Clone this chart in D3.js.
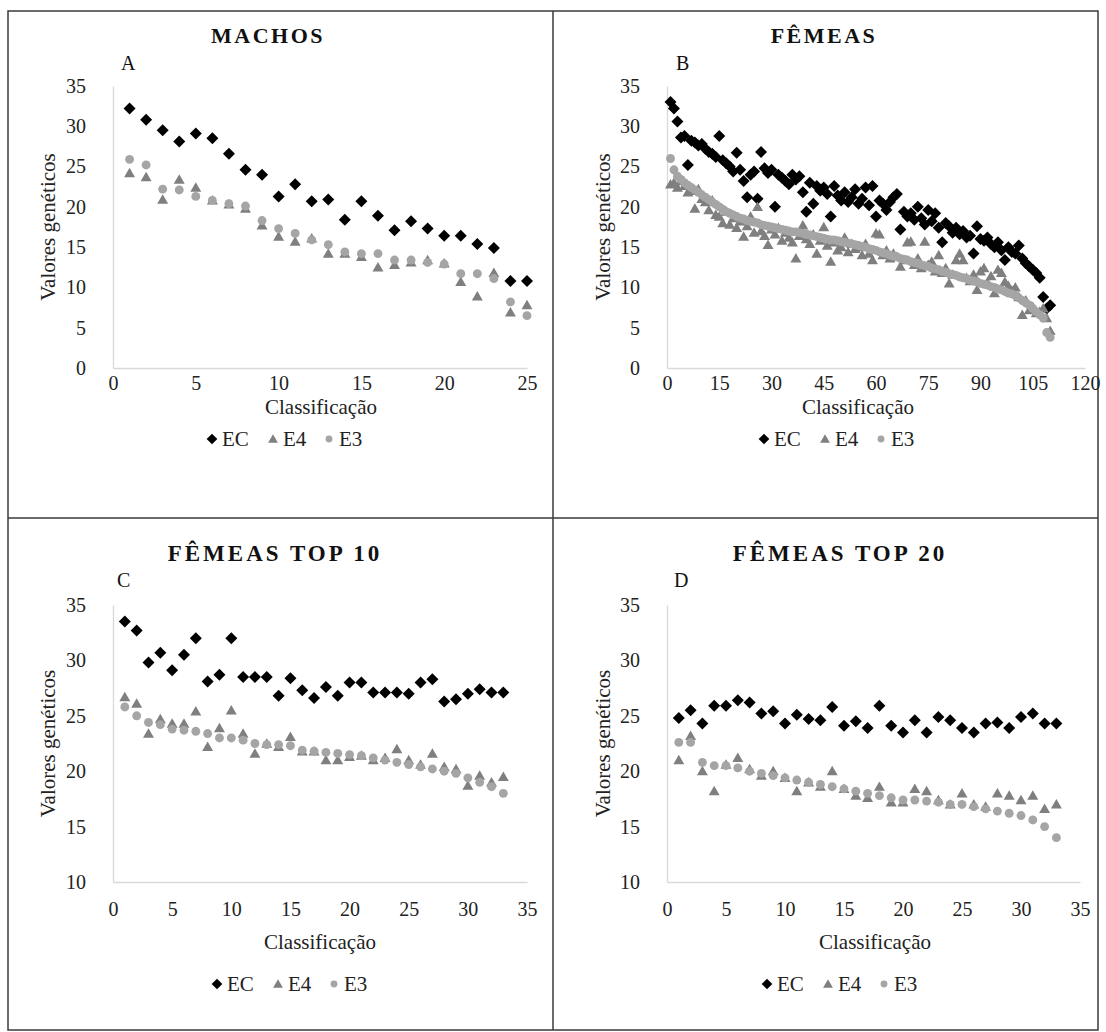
<!DOCTYPE html>
<html><head><meta charset="utf-8">
<script src="https://cdn.jsdelivr.net/npm/d3@7"></script>
<style>body{margin:0;background:#fff}</style>
</head><body>
<svg id="c" width="1106" height="1032"></svg>
<script>
// ---------- DATA ----------
const seriesNames = ["EC", "E4", "E3"];

const machosEC = [32.2,30.8,29.5,28.1,29.1,28.5,26.6,24.6,24.0,21.3,22.8,20.7,20.9,18.4,20.7,18.9,17.1,18.2,17.3,16.4,16.4,15.4,14.9,10.8,10.8];
const machosE4 = [24.2,23.7,20.9,23.4,22.4,20.8,20.3,19.8,17.7,16.3,15.7,16.1,14.2,14.2,13.8,12.5,12.8,13.1,13.4,13.0,10.7,8.9,11.8,6.9,7.8];
const machosE3 = [25.9,25.2,22.2,22.1,21.3,20.8,20.4,20.1,18.3,17.3,16.7,15.9,15.3,14.4,14.2,14.2,13.4,13.4,13.1,12.9,11.7,11.7,11.1,8.2,6.5];

const femeasEC = [33.0,32.2,30.6,28.6,28.8,25.2,28.2,28.0,27.6,27.8,27.2,26.8,26.6,26.2,28.8,25.8,25.4,25.0,24.4,26.7,
  24.6,23.2,21.2,24.0,24.4,21.0,26.8,24.8,24.2,24.6,20.0,24.0,23.6,23.2,22.8,24.0,23.4,23.8,21.8,19.4,
  23.0,20.4,22.6,22.0,22.4,21.6,18.8,22.6,21.4,20.8,21.8,20.6,21.2,22.2,20.4,21.0,22.4,20.2,22.6,18.8,
  20.8,20.4,19.6,20.6,21.2,21.6,17.2,19.4,18.8,19.2,18.4,20.0,18.6,17.8,19.6,18.2,19.2,17.4,15.6,18.0,
  17.6,16.8,17.4,16.6,17.0,16.2,16.4,14.2,17.6,16.0,15.8,16.2,15.4,15.0,15.6,14.6,13.4,15.0,14.4,14.2,
  15.2,13.6,13.0,12.6,12.2,11.8,11.2,8.8,7.4,7.8];
const femeasE4 = [22.8,23.0,22.4,23.2,22.6,21.8,22.0,19.8,22.2,21.0,20.6,19.6,20.8,19.0,18.8,18.0,19.4,17.8,18.6,17.4,
  18.2,16.3,17.6,18.8,16.8,20.0,17.0,16.4,15.3,17.2,16.6,17.4,15.8,16.8,16.2,15.6,13.6,16.4,17.7,16.0,
  15.4,16.6,14.2,15.8,17.5,15.2,13.2,15.6,14.6,15.0,16.2,14.4,15.4,14.8,15.0,14.0,15.4,14.2,13.4,16.7,
  16.6,14.0,14.6,13.6,14.2,13.8,12.6,13.4,15.6,15.7,12.8,13.6,12.4,15.7,12.8,13.2,12.0,14.0,11.8,12.4,
  10.5,11.6,13.4,14.2,13.4,11.2,10.8,11.6,9.7,12.0,12.4,10.6,11.4,9.3,12.2,11.8,10.7,10.2,9.6,10.0,
  8.8,6.6,8.4,7.2,7.6,6.8,7.0,7.4,6.2,4.6];
const femeasE3 = [26.0,24.6,23.8,23.4,23.0,22.7,22.4,22.1,21.8,21.5,21.2,20.9,20.6,20.3,20.0,19.7,19.4,19.2,19.0,18.8,
  18.6,18.5,18.3,18.2,18.1,18.0,17.8,17.7,17.6,17.5,17.4,17.3,17.2,17.1,17.0,16.9,16.9,16.8,16.7,16.6,
  16.5,16.4,16.3,16.2,16.1,16.0,15.9,15.9,15.8,15.7,15.6,15.5,15.4,15.3,15.2,15.1,15.0,14.8,14.7,14.6,
  14.4,14.3,14.2,14.0,13.9,13.8,13.6,13.5,13.4,13.2,13.1,13.0,12.8,12.7,12.6,12.4,12.3,12.2,12.0,11.9,
  11.7,11.6,11.5,11.3,11.2,11.1,10.9,10.8,10.7,10.5,10.4,10.3,10.1,10.0,9.8,9.7,9.5,9.3,9.2,9.0,
  8.7,8.4,8.1,7.8,7.4,7.0,6.6,6.2,4.4,3.8];

const top10EC = [33.5,32.7,29.8,30.7,29.1,30.5,32.0,28.1,28.7,32.0,28.5,28.5,28.5,26.8,28.4,27.3,26.6,27.6,26.8,28.0,28.0,27.1,27.1,27.1,27.0,28.0,28.3,26.3,26.5,27.0,27.4,27.1,27.1];
const top10E4 = [26.7,26.1,23.4,24.7,24.3,24.3,25.4,22.2,23.9,25.5,23.4,21.6,22.5,22.2,23.1,21.8,21.8,21.0,21.0,21.3,21.4,21.0,21.2,22.0,21.0,20.6,21.6,20.4,20.2,18.7,19.6,19.0,19.5];
const top10E3 = [25.8,25.0,24.4,24.2,23.8,23.7,23.6,23.4,23.0,23.0,22.8,22.5,22.4,22.4,22.3,21.9,21.8,21.7,21.6,21.5,21.4,21.2,21.0,20.8,20.6,20.4,20.2,20.0,19.8,19.4,19.0,18.6,18.0];

const top20EC = [24.8,25.5,24.3,25.9,25.9,26.4,26.2,25.2,25.4,24.3,25.1,24.7,24.6,25.8,24.1,24.5,23.9,25.9,24.1,23.5,24.6,23.5,24.9,24.6,23.9,23.5,24.3,24.4,23.9,24.9,25.2,24.3,24.3];
const top20E4 = [21.0,23.2,20.0,18.2,20.6,21.2,20.2,19.6,20.0,19.4,18.2,19.0,18.6,20.0,18.4,17.8,17.6,18.6,17.2,17.2,18.4,18.2,17.4,17.0,18.0,17.0,16.8,18.0,17.8,17.4,17.8,16.6,17.0];
const top20E3 = [22.6,22.6,20.8,20.5,20.5,20.3,20.0,19.8,19.6,19.4,19.2,19.0,18.8,18.6,18.4,18.2,18.0,17.8,17.6,17.4,17.4,17.3,17.2,17.0,17.0,16.8,16.6,16.4,16.2,16.0,15.6,15.0,14.0];

const xTicksA = [0,5,10,15,20,25];
const xTicksB = [0,15,30,45,60,75,90,105,120];
const xTicksCD = [0,5,10,15,20,25,30,35];
const yTicksAB = [0,5,10,15,20,25,30,35];
const yTicksCD = [10,15,20,25,30,35];

const titles = ["MACHOS", "FÊMEAS", "FÊMEAS TOP 10", "FÊMEAS TOP 20"];
const letters = ["A", "B", "C", "D"];
const xAxisTitle = "Classificação";
const yAxisTitle = "Valores genéticos";

// ---------- LAYOUT ----------
const serif = '"Liberation Serif","Times New Roman",serif';
const colors = {EC:"#000000", E4:"#7f7f7f", E3:"#a5a5a5"};
const FS = 20;

const panels = [
  {data:[machosEC,machosE4,machosE3], xTicks:xTicksA, yTicks:yTicksAB,
   x0:113, x1:527, yTop:86, yBot:368, xPad:8, titleX:268, titleY:43, titleFS:22, titleLS:2.5,
   letterX:121, letterY:70, yTitleX:48, xTitleX:321, xTitleY:414, legX:212, legY:446},
  {data:[femeasEC,femeasE4,femeasE3], xTicks:xTicksB, yTicks:yTicksAB,
   x0:667, x1:1085, yTop:86, yBot:368, xPad:8, titleX:824, titleY:43, titleFS:22, titleLS:2.5,
   letterX:676, letterY:70, yTitleX:603, xTitleX:858, xTitleY:414, legX:764, legY:446},
  {data:[top10EC,top10E4,top10E3], xTicks:xTicksCD, yTicks:yTicksCD,
   x0:113, x1:527, yTop:605, yBot:882, xPad:20, titleX:275, titleY:561, titleFS:23, titleLS:3,
   letterX:117, letterY:587, yTitleX:48, xTitleX:320, xTitleY:949, legX:217, legY:991},
  {data:[top20EC,top20E4,top20E3], xTicks:xTicksCD, yTicks:yTicksCD,
   x0:667, x1:1080, yTop:605, yBot:882, xPad:20, titleX:840, titleY:561, titleFS:23, titleLS:3,
   letterX:674, letterY:587, yTitleX:603, xTitleX:875, xTitleY:949, legX:767, legY:991}
];

const svg = d3.select("#c");

// frame
const frame = svg.append("g").attr("stroke","#3a3a3a").attr("stroke-width",1.5).attr("fill","none");
frame.append("rect").attr("x",8).attr("y",11).attr("width",1090).attr("height",1019);
frame.append("line").attr("x1",553).attr("x2",553).attr("y1",11).attr("y2",1030);
frame.append("line").attr("x1",8).attr("x2",1098).attr("y1",518).attr("y2",518);

function drawSymbol(g, name, cx, cy, scale) {
  const s = scale || 1;
  if (name === "EC") {
    g.append("path").attr("d", d3.symbol(d3.symbolSquare, 72*s)())
      .attr("transform", `translate(${cx},${cy}) rotate(45)`).attr("fill", colors.EC);
  } else if (name === "E4") {
    g.append("path").attr("d", d3.symbol(d3.symbolTriangle, 52*s)())
      .attr("transform", `translate(${cx},${cy+1})`).attr("fill", colors.E4);
  } else {
    g.append("path").attr("d", d3.symbol(d3.symbolCircle, 62*s)())
      .attr("transform", `translate(${cx},${cy})`).attr("fill", colors.E3);
  }
}

panels.forEach((p, i) => {
  const g = svg.append("g");
  const x = d3.scaleLinear().domain([p.xTicks[0], p.xTicks[p.xTicks.length-1]]).range([p.x0, p.x1]);
  const y = d3.scaleLinear().domain([p.yTicks[0], p.yTicks[p.yTicks.length-1]]).range([p.yBot, p.yTop]);

  // axes
  const ya = g.append("g").attr("transform", `translate(${p.x0},0)`)
    .call(d3.axisLeft(y).tickValues(p.yTicks).tickSize(0).tickSizeOuter(0).tickPadding(27));
  const xa = g.append("g").attr("transform", `translate(0,${p.yBot})`)
    .call(d3.axisBottom(x).tickValues(p.xTicks).tickSize(0).tickSizeOuter(0).tickPadding(p.xPad));
  [ya, xa].forEach(a => {
    a.select(".domain").attr("stroke", "#d9d9d9").attr("stroke-width", 1.3);
    a.selectAll("text").attr("font-family", serif).attr("font-size", FS).attr("fill", "#222");
  });

  // points: EC, E4, E3 order
  seriesNames.forEach((name, si) => {
    const arr = p.data[si];
    const sg = g.append("g");
    arr.forEach((v, k) => drawSymbol(sg, name, x(k+1), y(v)));
  });

  // titles
  g.append("text").attr("x", p.titleX).attr("y", p.titleY).attr("text-anchor","middle")
    .attr("font-family", serif).attr("font-weight","bold").attr("font-size", p.titleFS)
    .attr("letter-spacing", p.titleLS).attr("fill","#111").text(titles[i]);
  g.append("text").attr("x", p.letterX).attr("y", p.letterY)
    .attr("font-family", serif).attr("font-size", FS).attr("fill","#111").text(letters[i]);
  g.append("text").attr("transform", `translate(${p.yTitleX},${(p.yTop+p.yBot)/2}) rotate(-90)`)
    .attr("text-anchor","middle").attr("dy","0.35em")
    .attr("font-family", serif).attr("font-size", 21).attr("fill","#222").text(yAxisTitle);
  g.append("text").attr("x", p.xTitleX).attr("y", p.xTitleY).attr("text-anchor","middle")
    .attr("font-family", serif).attr("font-size", 21).attr("fill","#222").text(xAxisTitle);

  // legend
  const lg = g.append("g");
  const offs = [0, 61, 117];
  seriesNames.forEach((name, si) => {
    const cx = p.legX + offs[si];
    drawSymbol(lg, name, cx, p.legY - 7, name === "E3" ? 0.6 : 0.8);
    lg.append("text").attr("x", cx + 10).attr("y", p.legY)
      .attr("font-family", serif).attr("font-size", 21).attr("fill","#222").text(name);
  });
});
</script>
</body></html>
